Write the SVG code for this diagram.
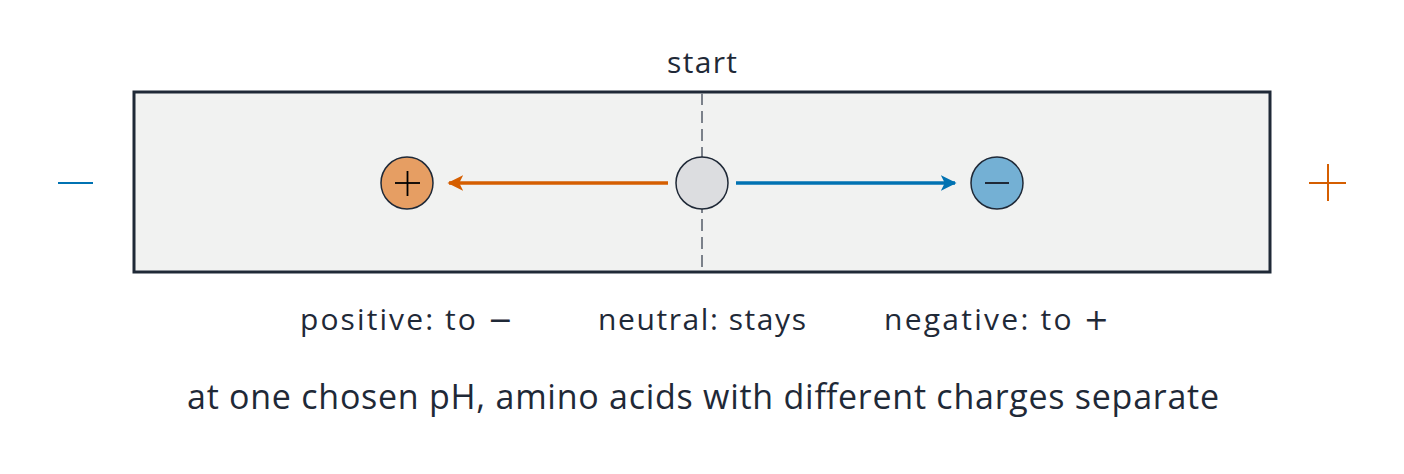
<svg xmlns="http://www.w3.org/2000/svg" width="1404" height="474" viewBox="0 0 1404 474">
<style>
text{font-family:"Open Sans","Noto Sans","DejaVu Sans",sans-serif;fill:#1f2937;text-anchor:middle}
.lbl{font-size:30px}
.cap{font-size:34px}
.sym{font-family:"DejaVu Sans",sans-serif;font-size:30px}
.ion{stroke:#1f2937;stroke-width:1.5}
</style>
<defs>
<marker id="ao" viewBox="0 0 10 10" refX="9" refY="5" markerWidth="4.5" markerHeight="4.5" orient="auto-start-reverse" markerUnits="strokeWidth"><path d="M0,0 L10,5 L0,10 L2.5,5 z" fill="#d55e00"/></marker>
<marker id="ab" viewBox="0 0 10 10" refX="9" refY="5" markerWidth="4.5" markerHeight="4.5" orient="auto" markerUnits="strokeWidth"><path d="M0,0 L10,5 L0,10 L2.5,5 z" fill="#0072b2"/></marker>
</defs>
<rect width="1404" height="474" fill="#ffffff"/>
<g id="gel">
<rect x="134" y="92" width="1136" height="180" fill="#f1f2f1" stroke="#1f2937" stroke-width="3"/>
</g>
<g id="start-line">
<line x1="702" y1="93" x2="702" y2="271" stroke="#7b818a" stroke-width="2" stroke-dasharray="12,6"/>
<text class="lbl" x="702" y="73" textLength="70" lengthAdjust="spacing">start</text>
</g>
<g id="connectors">
<line x1="668" y1="183" x2="449" y2="183" stroke="#d55e00" stroke-width="3.5" marker-end="url(#ao)"/>
<line x1="736" y1="183" x2="955" y2="183" stroke="#0072b2" stroke-width="3.5" marker-end="url(#ab)"/>
</g>
<g id="neutral">
<circle cx="702" cy="183" r="26" fill="#dcdde0" class="ion"/>
</g>
<g id="positive">
<circle cx="407" cy="183" r="26" fill="#e69e63" class="ion"/>
<line x1="395" y1="183" x2="420" y2="183" stroke="#000" stroke-width="1.8"/>
<line x1="407.5" y1="171" x2="407.5" y2="196" stroke="#000" stroke-width="1.8"/>
</g>
<g id="negative">
<circle cx="997" cy="183" r="26" fill="#74b0d4" class="ion"/>
<line x1="985" y1="183" x2="1009" y2="183" stroke="#1f2937" stroke-width="2"/>
</g>
<g id="cathode">
<line x1="58" y1="183" x2="93" y2="183" stroke="#0072b2" stroke-width="2"/>
</g>
<g id="anode">
<line x1="1309" y1="183" x2="1346" y2="183" stroke="#d55e00" stroke-width="2"/>
<line x1="1328" y1="164" x2="1328" y2="201" stroke="#d55e00" stroke-width="2"/>
</g>
<g id="labels">
<text class="lbl" x="406.5" y="330" textLength="213" lengthAdjust="spacing">positive:  to <tspan class="sym">−</tspan></text>
<text class="lbl" x="702" y="330" textLength="208" lengthAdjust="spacing">neutral:  stays</text>
<text class="lbl" x="996.5" y="330" textLength="225" lengthAdjust="spacing">negative:  to <tspan class="sym">+</tspan></text>
<text class="cap" x="703" y="409" textLength="1032" lengthAdjust="spacing">at one chosen pH, amino acids with different charges separate</text>
</g>
</svg>
